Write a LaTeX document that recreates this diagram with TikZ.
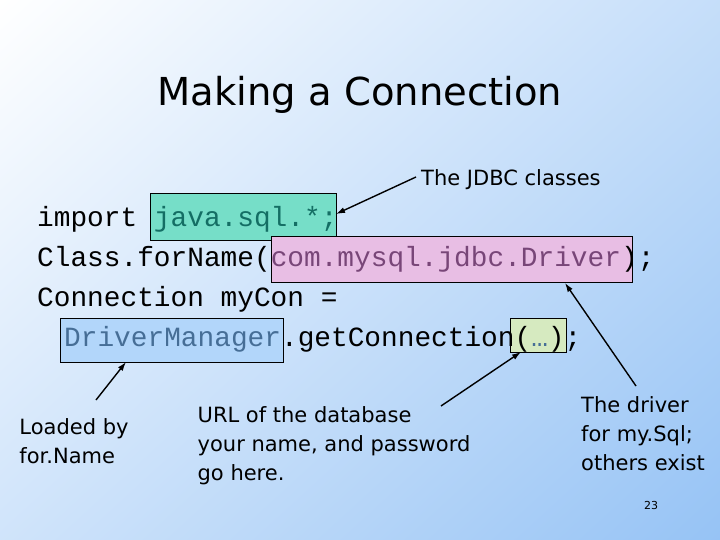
\documentclass[tikz,border=0pt]{standalone}
\usepackage{fontspec}
\setmainfont{DejaVu Sans}
\newfontfamily\codefont{Liberation Mono}
\usetikzlibrary{arrows.meta,shadings}
\definecolor{bgblue}{RGB}{150,195,245}
\definecolor{boxA}{RGB}{118,222,200}
\definecolor{boxB}{RGB}{232,190,228}
\definecolor{boxC}{RGB}{178,214,250}
\definecolor{boxD}{RGB}{214,234,192}
\definecolor{txtA}{RGB}{20,110,100}
\definecolor{txtB}{RGB}{120,70,120}
\definecolor{txtC}{RGB}{70,110,150}
\begin{document}
\begin{tikzpicture}[x=1pt,y=-1pt,
  code/.style={anchor=base west,inner sep=0pt,font=\codefont\fontsize{27.8}{28}\selectfont},
  lbl/.style={align=left,inner sep=0pt,font=\fontsize{21}{29}\selectfont},
  hbox/.style={draw=black,line width=0.8pt},
  arr/.style={-{Latex[length=9pt,width=6pt]},line width=1.4pt}]
\useasboundingbox (0,0) rectangle (720,540);
\shade[upper left=white,upper right=bgblue!55,lower left=bgblue!45,lower right=bgblue] (0,0) rectangle (720,540);
\node[font=\fontsize{38.5}{40}\selectfont,inner sep=0pt] (title) at (360,95) {Making a Connection};
\draw[hbox,fill=boxA] (150,193) rectangle (336,240);
\draw[hbox,fill=boxB] (271,236) rectangle (632,282);
\draw[hbox,fill=boxC] (60,318) rectangle (283,362);
\draw[hbox,fill=boxD] (510,318) rectangle (566,352);
\coordinate (bA) at (336,214);
\coordinate (bB) at (565,283);
\coordinate (bC) at (126,362);
\coordinate (bD) at (521,352);
\node[code] (l1) at (37,226) {import \textcolor{txtA}{java.sql.*;}};
\node[code] (l2) at (37,266) {Class.forName(\textcolor{txtB}{com.mysql.jdbc.Driver});};
\node[code] (l3) at (37,306) {Connection myCon =};
\node[code] (l4) at (64,346) {\textcolor{txtC}{DriverManager}.getConnection(\textcolor{txtC}{…});};
\node[lbl,anchor=west] (jdbc) at (421,180) {The JDBC classes};
\node[lbl] (load) at (74,441) {Loaded by\\for.Name};
\node[lbl] (url) at (334,446) {URL of the database\\your name, and password\\go here.};
\node[lbl] (drv) at (643,434) {The driver\\for my.Sql;\\others exist};
\node[font=\fontsize{11}{12}\selectfont] (pg) at (651,505) {23};
\draw[arr] (jdbc.west) ++(-5,-3) coordinate (jw) -- (bA);
\draw[arr] (96,400) -- (bC);
\draw[arr] (441,406) -- (bD);
\draw[arr] (636,386) -- (bB);
\end{tikzpicture}
\end{document}
